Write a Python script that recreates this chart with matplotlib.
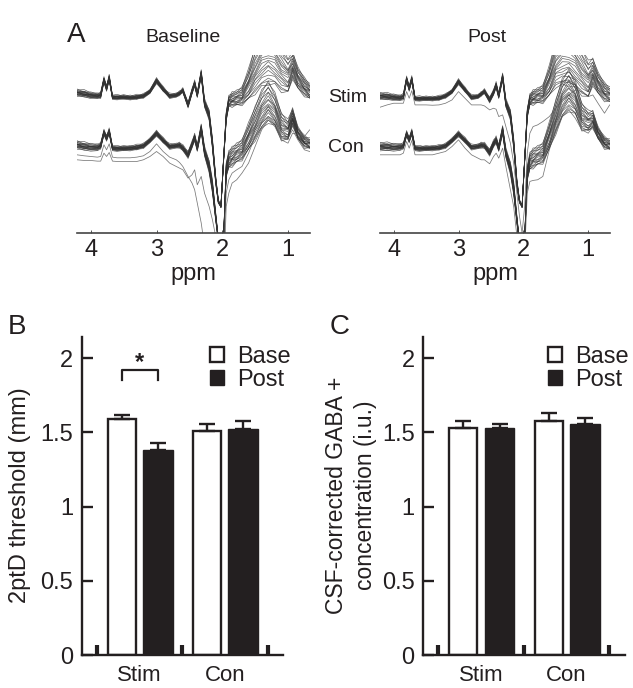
""" Two-point discrimination and GABA figure with MR spectra. """

import matplotlib
matplotlib.use("Agg")
import numpy as np
import matplotlib.pyplot as plt

plt.rcParams["font.family"] = ["Liberation Sans", "DejaVu Sans"]

WIDTH, HEIGHT = 633, 688
INK = "#231f20"

# spectra (y is in reference zoom rows, small = high)
ppm = [4.21, 4.1, 4.0, 3.9, 3.85, 3.8, 3.76, 3.72, 3.67, 3.6, 3.5, 3.4, 3.3, 3.2, 3.1, 3.0, 2.9,
       2.8, 2.7, 2.65, 2.6, 2.52, 2.46, 2.42, 2.38, 2.32, 2.27, 2.2, 2.15, 2.1, 2.06, 2.02, 1.98,
       1.94, 1.9, 1.85, 1.78, 1.7, 1.6, 1.5, 1.4, 1.3, 1.2, 1.1, 1.0, 0.93, 0.85, 0.75, 0.67]
stim_base = [218, 222, 226, 228, 226, 180, 205, 174, 232, 232, 232, 233, 232, 228, 215, 182, 208,
             228, 226, 220, 212, 255, 215, 190, 225, 160, 250, 285, 370, 480, 545, 560, 420,
             290, 245, 238, 235, 228, 195, 150, 115, 100, 115, 145, 165, 135, 175, 200, 215]
con_base = [375, 380, 382, 383, 378, 338, 355, 335, 385, 386, 386, 385, 383, 378, 362, 340, 362,
            380, 378, 376, 385, 405, 375, 352, 385, 325, 395, 440, 500, 590, 660, 800, 660,
            450, 420, 410, 400, 390, 352, 310, 270, 245, 270, 320, 332, 290, 340, 365, 372]
stim_post = [228, 230, 232, 234, 230, 178, 205, 178, 236, 236, 236, 236, 235, 228, 215, 185, 210,
             232, 230, 222, 215, 240, 218, 195, 228, 170, 250, 285, 370, 490, 545, 560, 420,
             280, 240, 232, 228, 222, 185, 130, 110, 105, 125, 155, 180, 155, 190, 215, 225]
con_post = [380, 381, 382, 382, 378, 342, 360, 338, 385, 386, 386, 385, 384, 378, 362, 342, 362,
            382, 380, 376, 378, 398, 372, 360, 385, 330, 400, 445, 505, 600, 670, 800, 660,
            460, 425, 415, 408, 400, 350, 290, 235, 210, 235, 290, 305, 298, 340, 368, 375]
stim_spread = [10, 10, 9, 8, 8, 8, 8, 8, 6, 6, 6, 6, 6, 6, 6, 8, 6,
               6, 6, 6, 6, 8, 8, 8, 8, 10, 12, 15, 16, 12, 6, 4, 6,
               12, 16, 20, 22, 26, 45, 70, 85, 90, 80, 70, 55, 40, 32, 26, 22]
con_spread = [12, 12, 11, 10, 8, 8, 8, 8, 7, 7, 7, 7, 7, 7, 7, 8, 7,
              7, 7, 8, 8, 10, 10, 10, 10, 12, 14, 18, 20, 12, 6, 4, 6,
              20, 25, 28, 28, 30, 40, 50, 58, 60, 50, 40, 30, 25, 18, 16, 15]
ripple = [2, -3, 2, -1, 3, -2, 2, -3, 1, 3, -2, 2, -3, 2, -1, 2, -3,
          3, -1, 2, -3, 2, -2, 3, -1, 2, -3, 2, -2, 1, 0, 0, 0,
          2, -3, 4, -3, 3, -5, 4, -3, 5, -4, 3, -5, 3, -3, 4, -3]
left_weights = [-1.0, 0.35, -0.65, 0.8, -0.4, -0.05, 0.2, -0.85, 0.55, -0.15,
                0.02, -0.3, 0.12, 1.0, -0.5, 0.28, -0.22, 0.62, -0.08, 0.45]
right_weights = [0.1, -0.95, 0.7, -0.25, 1.0, 0.32, -0.75, 0.5, -0.1, -0.55,
                 0.85, 0.02, -0.38, 0.2, 0.6, -1.0, 0.42, -0.18, -0.65, 0.9]
ripple_weights = [1, -1, 0.5, -0.5, 1.2, -0.8, 0.7, -1.2, 0.3, 0.9,
                  -0.4, 1.1, -0.9, 0.6, -0.6, 1, -0.3, 0.8, -1, 0.4]

# traces lying outside the main bundles
low_con_base = [420, 422, 422, 424, 424, 400, 410, 398, 424, 425, 425, 425, 425, 420, 410, 395, 410,
                430, 440, 445, 450, 475, 465, 450, 495, 470, 520, 560, 600, 650, 720, 790, 700,
                520, 480, 460, 450, 440, 400, 350, 310, 290, 310, 350, 355, 330, 360, 390, 395]
fall_con_base = [405, 408, 410, 412, 410, 375, 390, 372, 412, 414, 414, 414, 412, 408, 395, 372, 395,
                 412, 420, 428, 440, 470, 490, 510, 550, 610, 680, 800, 800, 800, 800, 800, 800,
                 560, 520, 490, 480, 460, 430, 380, 330, 300, 320, 360, 370, 340, 345, 350, 330]
low_stim_post = [262, 255, 250, 250, 250, 215, 235, 212, 255, 255, 255, 256, 255, 250, 240, 215, 235,
                 255, 255, 255, 258, 270, 265, 268, 290, 285, 320, 370, 430, 520, 590, 640, 560,
                 400, 340, 320, 315, 305, 290, 265, 240, 225, 210, 215, 230, 225, 250, 280, 255]
low_con_post = [405, 405, 405, 405, 400, 365, 385, 362, 405, 405, 405, 405, 400, 395, 380, 360, 385,
                405, 415, 420, 420, 432, 410, 400, 415, 385, 440, 510, 560, 650, 740, 790, 700,
                520, 485, 482, 480, 470, 390, 330, 290, 270, 295, 330, 340, 320, 350, 375, 385]

# bars
groups = ["Stim", "Con"]
threshold_base = [1.59, 1.51]
threshold_base_err = [0.03, 0.045]
threshold_post = [1.38, 1.52]
threshold_post_err = [0.05, 0.06]
gaba_base = [1.53, 1.58]
gaba_base_err = [0.05, 0.05]
gaba_post = [1.53, 1.56]
gaba_post_err = [0.03, 0.04]


def axes_px(fig, left, top, right, bottom):
    """ Axes from a box given in image pixels. """
    return fig.add_axes([left / WIDTH, 1 - bottom / HEIGHT,
                         (right - left) / WIDTH, (bottom - top) / HEIGHT])


def text_px(fig, x, y, s, **kw):
    fig.text(x / WIDTH, 1 - y / HEIGHT, s, color=INK, va="center", **kw)


def spectra_panel(fig, left, right, stim, con, extras):
    ax = axes_px(fig, left, 55, right, 233)
    x = np.array(ppm)
    side = x > 2.02
    for wl, wr, wp in zip(left_weights, right_weights, ripple_weights):
        for curve, spread in ((stim, stim_spread), (con, con_spread)):
            weight = np.where(side, wl, wr)
            y = np.array(curve) + weight * np.array(spread) + wp * np.array(ripple)
            ax.plot(x, y, color="#333333", lw=0.5, alpha=0.75)
    for trace in extras:
        ax.plot(x, trace, color="#555555", lw=0.55, alpha=0.8)
    ax.set_xlim(4.21, 0.665)
    ax.set_ylim(640, 105)
    ax.set_yticks([])
    ax.set_xticks([4, 3, 2, 1])
    ax.tick_params(axis="x", direction="in", length=2.5, width=0.7, color="#555555",
                   labelsize=17, labelcolor=INK, pad=4)
    for spine in ["top", "left", "right"]:
        ax.spines[spine].set_visible(False)
    ax.spines["bottom"].set_linewidth(1.2)
    ax.spines["bottom"].set_color("#444444")
    ax.set_xlabel("ppm", fontsize=17, color=INK, labelpad=2)
    return ax


def bar_panel(fig, left, right, base, base_err, post, post_err, legend_x):
    ax = axes_px(fig, left, 337, right, 655)
    pos = np.arange(len(groups), dtype=float)
    ax.bar(pos + 0.29, base, 0.33, color="white", edgecolor=INK, linewidth=1.7, label="Base",
           yerr=[[0, 0], base_err], error_kw=dict(ecolor=INK, elinewidth=1.7, capsize=6, capthick=1.7))
    ax.bar(pos + 0.715, post, 0.35, color=INK, edgecolor=INK, linewidth=1, label="Post",
           yerr=[[0, 0], post_err], error_kw=dict(ecolor=INK, elinewidth=1.7, capsize=6, capthick=1.7))
    ax.set_xlim(-0.18, 2.177)
    ax.set_ylim(0, 2.143)
    ax.set_yticks([0, 0.5, 1, 1.5, 2])
    ax.set_yticklabels(["0", "0.5", "1", "1.5", "2"])
    ax.tick_params(axis="y", direction="in", length=8, width=1.7, color=INK,
                   labelsize=17, labelcolor=INK, pad=6)
    ax.set_xticks([0, 1, 2])
    ax.set_xticklabels([])
    ax.tick_params(axis="x", which="major", direction="in", length=7, width=3, color=INK)
    ax.set_xticks(pos + 0.5, minor=True)
    ax.set_xticklabels(groups, minor=True)
    ax.tick_params(axis="x", which="minor", length=0, labelsize=16, labelcolor=INK, pad=7)
    for spine in ["top", "right"]:
        ax.spines[spine].set_visible(False)
    for spine in ["left", "bottom"]:
        ax.spines[spine].set_linewidth(1.7)
        ax.spines[spine].set_color(INK)
    ax.legend(loc="upper right", bbox_to_anchor=(legend_x, 1.038), frameon=False, fontsize=17,
              handlelength=0.6, handleheight=0.6, handletextpad=0.55, labelspacing=0.02,
              labelcolor=INK)
    return ax


fig = plt.figure(figsize=(WIDTH / 100, HEIGHT / 100), dpi=100)

spectra_panel(fig, 77, 310, stim_base, con_base, [low_con_base, fall_con_base])
spectra_panel(fig, 380, 610, stim_post, con_post, [low_stim_post, low_con_post])

ax_b = bar_panel(fig, 81.7, 282.7, threshold_base, threshold_base_err,
                 threshold_post, threshold_post_err, 1.145)
ax_c = bar_panel(fig, 423, 624.5, gaba_base, gaba_base_err, gaba_post, gaba_post_err, 1.125)

# significance bracket over the Stim bars
ax_b.plot([0.29, 0.29, 0.715, 0.715], [1.85, 1.92, 1.92, 1.85], color=INK, lw=1.6)
ax_b.text(0.5, 1.895, "*", ha="center", va="bottom", fontsize=17, fontweight="bold", color=INK)

text_px(fig, 67, 35, "A", fontsize=20)
text_px(fig, 8, 327, "B", fontsize=20)
text_px(fig, 330, 327, "C", fontsize=20)
text_px(fig, 183, 38, "Baseline", fontsize=14, ha="center")
text_px(fig, 487, 38, "Post", fontsize=14, ha="center")
text_px(fig, 328, 97, "Stim", fontsize=14)
text_px(fig, 328, 147, "Con", fontsize=14)
text_px(fig, 20, 495, "2ptD threshold (mm)", fontsize=17, rotation=90, ha="center")
text_px(fig, 351, 495, "CSF-corrected GABA +\nconcentration (i.u.)", fontsize=16.5, rotation=90,
        ha="center", linespacing=1.3)

fig.savefig("out.png", dpi=100)
